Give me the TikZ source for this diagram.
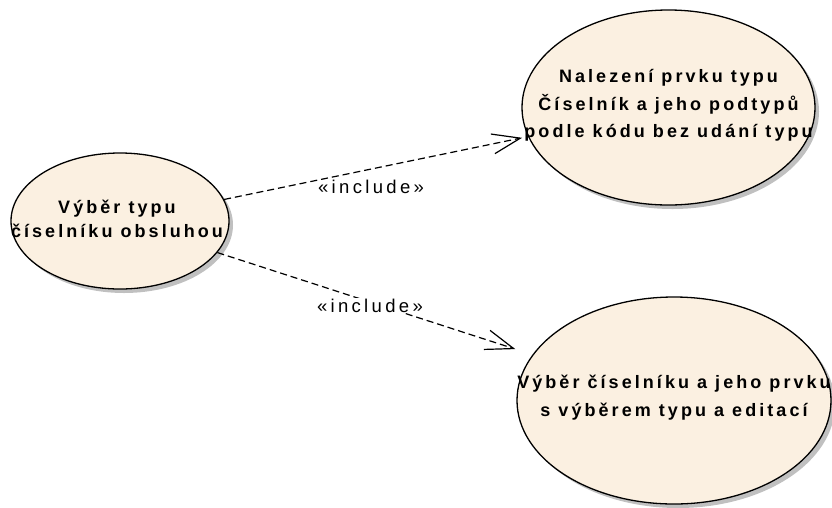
\documentclass[tikz,border=0pt]{standalone}
\usepackage{fontspec}
\setmainfont{Liberation Sans}
\newfontfamily\ucfont{Liberation Sans}[LetterSpace=17]
\newfontfamily\stereofont{Liberation Sans}[LetterSpace=18]
\usetikzlibrary{shapes.geometric,arrows.meta,shadows}

\definecolor{ucfill}{RGB}{251,240,225}
\definecolor{ucshadow}{RGB}{192,192,192}

\tikzset{
  usecase/.style={ellipse, draw=black, line width=1.3pt, fill=ucfill, inner sep=0pt,
    drop shadow={shadow xshift=4pt, shadow yshift=-4pt, fill=ucshadow, opacity=1}},
  uctext/.style={font=\ucfont\bfseries\fontsize{18}{27.5}\selectfont, align=center, inner sep=0pt},
  include/.style={line width=1.2pt, dash pattern=on 7pt off 4pt,
    -{Straight Barb[length=28pt,width=20pt,line width=1.2pt]}},
  stereo/.style={font=\stereofont\fontsize{18.5}{20}\selectfont, inner sep=0.5pt}
}

\begin{document}
\begin{tikzpicture}[x=1pt,y=-1pt]
  \useasboundingbox (0,0) rectangle (832,507);

  % use cases
  \node[usecase, minimum width=218pt, minimum height=136pt,
        label={[uctext, font=\ucfont\bfseries\fontsize{18}{24}\selectfont, xshift=-3pt, yshift=2pt]center:Výběr typu\\číselníku obsluhou}]
        (sel) at (120,221) {};
  \node[usecase, minimum width=293pt, minimum height=195pt,
        label={[uctext, yshift=2pt]center:Nalezení prvku typu\\Číselník a jeho podtypů\\podle kódu bez udání typu}]
        (find) at (668.5,107.5) {};
  \node[usecase, minimum width=314pt, minimum height=207pt,
        label={[uctext, yshift=3pt]center:Výběr číselníku a jeho prvku\\s výběrem typu a editací}]
        (pick) at (674,400.5) {};

  % include relations
  \draw[include, shorten >=6pt] (sel) -- (find)
        node[stereo, pos=0.5, xshift=-5pt, yshift=-19pt] (inc1) {«include»};
  \draw[include, shorten >=18pt] (sel) -- (pick)
        node[stereo, fill=white, pos=0.5, xshift=-5pt, yshift=-2pt] (inc2) {«include»};
\end{tikzpicture}
\end{document}
